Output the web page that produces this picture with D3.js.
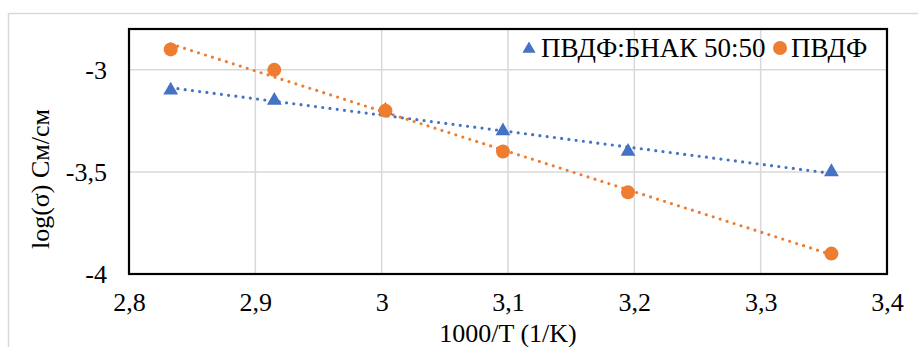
<!DOCTYPE html>
<html><head><meta charset="utf-8">
<script src="https://cdn.jsdelivr.net/npm/d3@7"></script>
<style>body{margin:0;background:#fff}svg{display:block}svg text{font-family:'Liberation Serif','Times New Roman',serif !important}</style>
</head><body>
<svg id="c" width="918" height="347"></svg>
<script>
const xValues = [2.833, 2.915, 3.003, 3.096, 3.195, 3.356];
const seriesNames = ["ПВДФ:БНАК 50:50", "ПВДФ"];
const blendValues = [-3.1, -3.15, -3.2, -3.3, -3.4, -3.5];
const pvdfValues = [-2.9, -3.0, -3.2, -3.4, -3.6, -3.9];
const xTicks = [2.8, 2.9, 3.0, 3.1, 3.2, 3.3, 3.4];
const yTicks = [-3, -3.5, -4];
const colors = ["#4472C4", "#ED7D31"];

const svg = d3.select("#c");
const pL = 129, pR = 887, pT = 29, pB = 274;
const x = d3.scaleLinear().domain([2.8, 3.4]).range([pL, pR]);
const y = d3.scaleLinear().domain([-4, -2.8]).range([pB, pT]);
const fmt = d => String(+d.toFixed(2)).replace(".", ",");
const font = "'Liberation Serif','Times New Roman',serif";

// outer border
svg.append("rect").attr("x", 8.5).attr("y", 13.5).attr("width", 930).attr("height", 360)
  .attr("fill", "none").attr("stroke", "#d9d9d9").attr("stroke-width", 1.5);

// gridlines
const grid = svg.append("g");
grid.selectAll("line.v").data(xTicks.slice(1, -1)).join("line")
  .attr("x1", d => x(d)).attr("x2", d => x(d)).attr("y1", pT).attr("y2", pB)
  .attr("stroke", "#d9d9d9").attr("stroke-width", 1.5);
grid.selectAll("line.h").data(yTicks.filter(d => d !== -4)).join("line")
  .attr("x1", pL).attr("x2", pR).attr("y1", d => y(d)).attr("y2", d => y(d))
  .attr("stroke", "#d9d9d9").attr("stroke-width", 1.5);

// axes (labels only)
const xAxis = svg.append("g").attr("transform", `translate(0,${pB})`)
  .call(d3.axisBottom(x).tickValues(xTicks).tickFormat(fmt).tickSize(0).tickPadding(19));
xAxis.attr("font-family", font).attr("font-size", 26);
xAxis.select(".domain").remove();
xAxis.selectAll("text").attr("fill", "#000");
const yAxis = svg.append("g").attr("transform", `translate(${pL},0)`)
  .call(d3.axisLeft(y).tickValues(yTicks).tickFormat(fmt).tickSize(0).tickPadding(22));
yAxis.attr("font-family", font).attr("font-size", 26);
yAxis.select(".domain").remove();
yAxis.selectAll("text").attr("fill", "#000");

// plot border
svg.append("rect").attr("x", pL).attr("y", pT).attr("width", pR - pL).attr("height", pB - pT)
  .attr("fill", "none").attr("stroke", "#000").attr("stroke-width", 2.2);

// trendlines (linear regression)
const series = [blendValues, pvdfValues];
series.forEach((vals, i) => {
  const n = xValues.length;
  const mx = d3.mean(xValues), my = d3.mean(vals);
  let sxy = 0, sxx = 0;
  for (let k = 0; k < n; k++) { sxy += (xValues[k] - mx) * (vals[k] - my); sxx += (xValues[k] - mx) ** 2; }
  const b = sxy / sxx, a = my - b * mx;
  const x0 = d3.min(xValues), x1 = d3.max(xValues);
  svg.append("line")
    .attr("x1", x(x0)).attr("y1", y(a + b * x0)).attr("x2", x(x1)).attr("y2", y(a + b * x1))
    .attr("stroke", colors[i]).attr("stroke-width", 3.2).attr("stroke-linecap", "round")
    .attr("stroke-dasharray", "0,7.3");
});

// markers
const tri = d3.symbol().type(d3.symbolTriangle).size(95);
svg.append("g").selectAll("path").data(xValues.map((v, k) => [v, blendValues[k]])).join("path")
  .attr("d", tri).attr("transform", d => `translate(${x(d[0])},${y(d[1])})`).attr("fill", colors[0]);
svg.append("g").selectAll("circle").data(xValues.map((v, k) => [v, pvdfValues[k]])).join("circle")
  .attr("cx", d => x(d[0])).attr("cy", d => y(d[1])).attr("r", 7).attr("fill", colors[1]);

// legend
const lg = svg.append("g");
lg.append("path").attr("d", d3.symbol().type(d3.symbolTriangle).size(75)).attr("transform", "translate(529,49)").attr("fill", colors[0]);
lg.append("text").attr("x", 541).attr("y", 57).text(seriesNames[0])
  .attr("font-family", font).attr("font-size", 27).attr("fill", "#000");
lg.append("circle").attr("cx", 780).attr("cy", 48).attr("r", 7).attr("fill", colors[1]);
lg.append("text").attr("x", 791).attr("y", 57).text(seriesNames[1])
  .attr("font-family", font).attr("font-size", 27).attr("fill", "#000");

// axis titles
svg.append("text").attr("transform", "translate(49,179) rotate(-90)").attr("text-anchor", "middle")
  .attr("font-family", font).attr("font-size", 26).attr("fill", "#000").text("log(σ) См/см");
svg.append("text").attr("x", 508).attr("y", 342).attr("text-anchor", "middle")
  .attr("font-family", font).attr("font-size", 26).attr("fill", "#000").text("1000/T (1/K)");
</script>
</body></html>
